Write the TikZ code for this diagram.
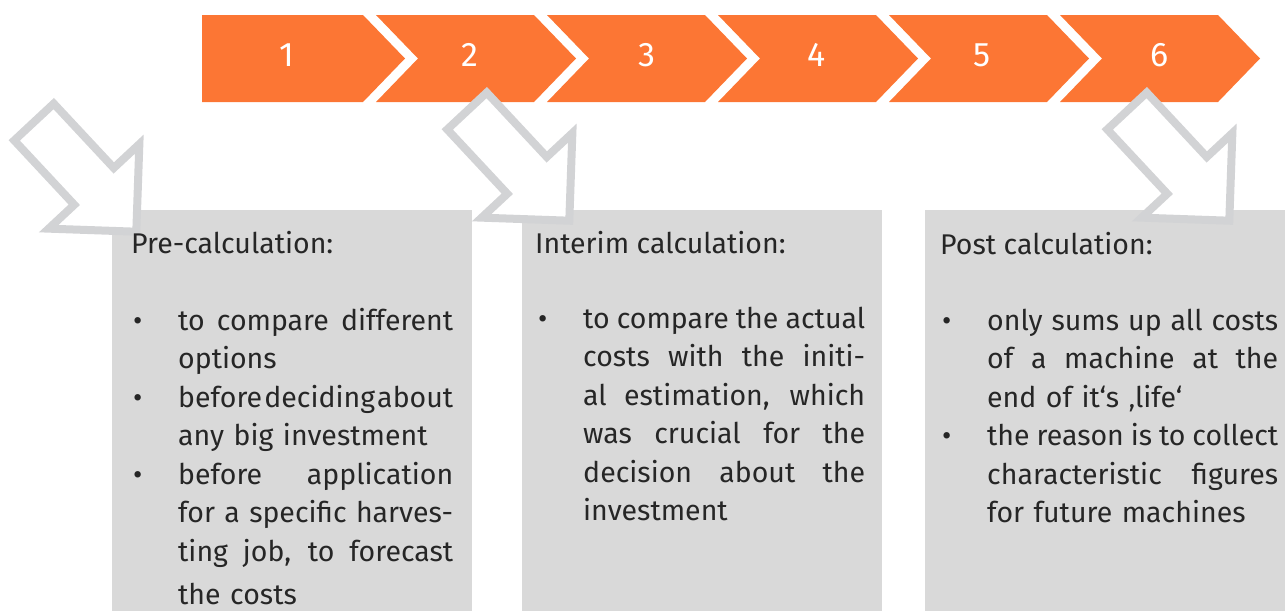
\documentclass[tikz,border=0pt]{standalone}
\usepackage{fontspec}
\setmainfont{Fira Sans}
\usetikzlibrary{positioning}

\definecolor{steporange}{RGB}{252,118,52}
\definecolor{panelgray}{RGB}{217,217,217}
\definecolor{arrowgray}{RGB}{210,211,213}
\definecolor{bodytext}{RGB}{38,38,38}

\newcommand{\jline}[2]{\makebox[#1][s]{\spaceskip=0.25em plus 1fil minus 0.25em #2}}
\newcommand{\bul}{\leavevmode\llap{\makebox[45pt][l]{\textbullet}}}

\begin{document}
\begin{tikzpicture}[
			x=1pt, y=-1pt,
			chev/.style={fill=steporange},
			num/.style={text=white, inner sep=0pt, font=\fontsize{34}{34}\selectfont},
			panel/.style={fill=panelgray, anchor=north west, inner sep=0pt, minimum height=401pt},
			head/.style={anchor=base west, inner sep=0pt, text=bodytext, font=\fontsize{28.5}{38.5}\selectfont},
			items/.style={anchor=base west, inner sep=0pt, text=bodytext, align=left, font=\fontsize{28.5}{38.5}\selectfont},
			hollow/.style={draw=arrowgray, fill=white, line width=8pt, line join=miter}
			]
			
			\useasboundingbox (0,0) rectangle (1285,611);
			
			\fill[chev] (202,15) -- (363,15) -- (405,58.5) -- (363,102) -- (202,102) -- cycle;
			\fill[chev] (376,15) -- (534,15) -- (576,58.5) -- (534,102) -- (376,102) -- (418,58.5) -- cycle;
			\fill[chev] (547,15) -- (705,15) -- (747,58.5) -- (705,102) -- (547,102) -- (589,58.5) -- cycle;
			\fill[chev] (718,15) -- (876,15) -- (918,58.5) -- (876,102) -- (718,102) -- (760,58.5) -- cycle;
			\fill[chev] (889,15) -- (1047,15) -- (1089,58.5) -- (1047,102) -- (889,102) -- (931,58.5) -- cycle;
			\fill[chev] (1060,15) -- (1218,15) -- (1260,58.5) -- (1218,102) -- (1060,102) -- (1102,58.5) -- cycle;
			
			\node[num] (n1) at (287,55) {1};
			\node[num] (n2) at (470,55) {2};
			\node[num] (n3) at (647,55) {3};
			\node[num] (n4) at (817,55) {4};
			\node[num] (n5) at (982,55) {5};
			\node[num] (n6) at (1160,55) {6};
			
			\node[panel, minimum width=360pt] (pre) at (112,210) {};
			\node[panel, minimum width=360pt] (interim) at (522,210) {};
			\node[panel, minimum width=360pt] (post) at (925,210) {};
			
			\filldraw[hollow, shift={(34,122)}, rotate=-47] (0,-27) -- (88,-27) -- (88,-62) -- (150,0) -- (88,62) -- (88,27) -- (0,27) -- cycle;
			\filldraw[hollow, shift={(467,111)}, rotate=-47] (0,-27) -- (88,-27) -- (88,-62) -- (150,0) -- (88,62) -- (88,27) -- (0,27) -- cycle;
			\filldraw[hollow, shift={(1127,111)}, rotate=-47] (0,-27) -- (88,-27) -- (88,-62) -- (150,0) -- (88,62) -- (88,27) -- (0,27) -- cycle;
			
			\node[head] (preh) at (131,253) {Pre-calculation:};
			\node[head] (interimh) at (535,253) {Interim calculation:};
			\node[head] (posth) at (940,254) {Post calculation:};
			
			\node[items, text width=275pt] (prel) at (178,330) {\bul\jline{275pt}{to compare different}\\
				options\\
				\bul\jline{275pt}{before deciding about}\\
				any big investment\\
				\bul\jline{275pt}{before application}\\
				\jline{275pt}{for a specific harves-}\\
				\jline{275pt}{ting job, to forecast}\\[4.5pt]
				the costs};
			\node[items, text width=282pt] (interiml) at (583,328) {\bul\jline{282pt}{to compare the actual}\\
				\jline{282pt}{costs with the initi-}\\
				\jline{282pt}{al estimation, which}\\
				\jline{282pt}{was crucial for the}\\
				\jline{282pt}{decision about the}\\
				investment};
			\node[items, text width=291pt] (postl) at (987,330) {\bul\jline{291pt}{only sums up all costs}\\
				\jline{291pt}{of a machine at the}\\
				end of it‘s ‚life‘\\
				\bul\jline{291pt}{the reason is to collect}\\
				\jline{291pt}{characteristic figures}\\
				for future machines};
		\end{tikzpicture}
\end{document}
